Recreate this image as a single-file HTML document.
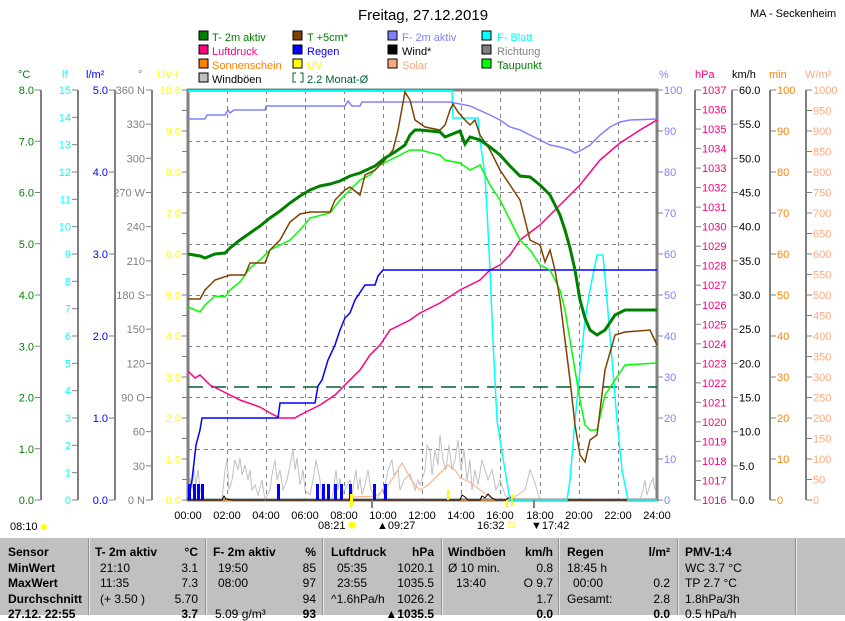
<!DOCTYPE html>
<html><head><meta charset="utf-8"><style>
body{margin:0;width:845px;height:615px;overflow:hidden;background:#fff;font-family:"Liberation Sans",sans-serif}
svg{position:absolute;left:0;top:0}
#tbl{position:absolute;left:0;top:538px;width:845px;height:77px;background:#c0c0c0;font-size:12px;color:#000}
#tbl div{position:absolute;white-space:nowrap}
.b{font-weight:bold}
.r{text-align:right}
.sep{width:1px;top:0;height:77px;background:#e8e8e8;border-left:1px solid #909090}
</style></head><body>
<svg width="845" height="538" viewBox="0 0 845 538" font-family="Liberation Sans, sans-serif" font-size="11">
<text x="423" y="20" font-size="15" text-anchor="middle">Freitag, 27.12.2019</text>
<text x="750" y="17" font-size="11">MA - Seckenheim</text>
<!-- legend -->
<g font-size="11">
<rect x="199" y="31" width="9" height="9" fill="#008000" stroke="#000"/><text x="212" y="41" fill="#008000">T- 2m aktiv</text>
<rect x="293" y="31" width="9" height="9" fill="#804000" stroke="#000"/><text x="307" y="41" fill="#008000">T +5cm*</text>
<rect x="388" y="31" width="9" height="9" fill="#8080ff" stroke="#000"/><text x="402" y="41" fill="#8080ff">F- 2m aktiv</text>
<rect x="482" y="31" width="9" height="9" fill="#00ffff" stroke="#000"/><text x="497" y="41" fill="#00ffff">F- Blatt</text>
<rect x="199" y="45" width="9" height="9" fill="#ff0080" stroke="#000"/><text x="212" y="55" fill="#ff0080">Luftdruck</text>
<rect x="293" y="45" width="9" height="9" fill="#0000ff" stroke="#000"/><text x="307" y="55" fill="#0000ff">Regen</text>
<rect x="388" y="45" width="9" height="9" fill="#000" stroke="#000"/><text x="402" y="55" fill="#000">Wind*</text>
<rect x="482" y="45" width="9" height="9" fill="#808080" stroke="#000"/><text x="497" y="55" fill="#808080">Richtung</text>
<rect x="199" y="59" width="9" height="9" fill="#ff8000" stroke="#000"/><text x="212" y="69" fill="#ff8000">Sonnenschein</text>
<rect x="293" y="59" width="9" height="9" fill="#ffff00" stroke="#000"/><text x="307" y="69" fill="#ffff00">UV</text>
<rect x="388" y="59" width="9" height="9" fill="#ffa880" stroke="#000"/><text x="402" y="69" fill="#ffa880">Solar</text>
<rect x="482" y="59" width="9" height="9" fill="#00ff00" stroke="#000"/><text x="497" y="69" fill="#008000">Taupunkt</text>
<rect x="199" y="73" width="9" height="9" fill="#c0c0c0" stroke="#000"/><text x="212" y="83" fill="#000">Windböen</text>
<path d="M296 73h-3v9h3M300 73h3v9h-3" fill="none" stroke="#006030"/><text x="307" y="83" fill="#006030">2.2 Monat-Ø</text>
</g>
<!-- unit headers -->
<g font-size="11">
<text x="18" y="78" fill="#008000">°C</text><text x="62" y="78" fill="#00ffff">lf</text>
<text x="86" y="78" fill="#0000ff">l/m²</text><text x="138" y="78" fill="#808080">°</text>
<text x="157" y="78" fill="#ffff00">UV-I</text>
<text x="659" y="78" fill="#8080ff">%</text><text x="695" y="78" fill="#ff0080">hPa</text>
<text x="732" y="78" fill="#000">km/h</text><text x="769" y="78" fill="#ff8000">min</text>
<text x="805" y="78" fill="#ffa880">W/m²</text>
</g>
<!-- grid -->
<g stroke="#808080" stroke-dasharray="4,4" stroke-width="1">
<path d="M227.5 90V500M266.5 90V500M305.5 90V500M344.5 90V500M383.5 90V500M422.5 90V500M461.5 90V500M500.5 90V500M540.5 90V500M579.5 90V500M618.5 90V500"/>
<path d="M188 141.5H657M188 192.5H657M188 244.5H657M188 295.5H657M188 346.5H657M188 397.5H657M188 449.5H657"/>
</g>
<!-- axes -->
<g stroke="#808080" stroke-width="2" fill="none">
<path d="M41 90V500M78 90V500M115 90V500M152 90V500M695 90V500M732 90V500M770 90V500M806 90V500"/>
</g>
<rect x="188" y="90" width="469" height="410" fill="none" stroke="#808080" stroke-width="3"/>
<g id="ticks" stroke="#808080" stroke-width="1"></g>
<g id="lbl" font-size="11"></g>
<!-- data -->
<line x1="188" y1="91" x2="452" y2="91" stroke="#00ffff" stroke-width="2"/>
<path d="M188 387H657" stroke="#006030" stroke-width="1.5" stroke-dasharray="15,8" fill="none"/>
<polyline fill="none" stroke="#c0c0c0" stroke-width="1" points="188,500 190,478 192,490 194,468 196,485 198,470 200,488 202,495 206,500 222,500 225,470 227,460 229,490 232,480 235,460 238,470 240,458 242,475 245,465 248,480 250,470 252,490 255,485 258,495 262,480 265,500 270,490 272,475 275,460 277,480 280,470 283,490 287,480 290,465 293,450 295,470 297,458 300,485 303,470 305,490 310,495 313,480 316,460 318,470 320,480 322,500 332,500 334,485 336,470 338,490 340,478 342,495 350,480 352,495 356,470 358,490 360,478 362,495 365,485 368,470 371,490 376,500 385,485 388,470 392,460 394,475 398,470 400,490 404,480 410,474 415,490 418,480 420,485 425,470 427,445 430,450 432,475 435,450 438,465 440,435 443,460 446,470 449,445 452,470 455,460 458,440 461,470 464,450 467,480 470,460 472,490 475,470 478,485 482,460 485,470 488,480 492,470 496,490 500,480 505,495 510,500 525,490 530,470 534,480 537,490 540,500 640,500 643,490 645,480 647,495 650,485 653,478 655,490"/>
<polyline fill="none" stroke="#ffa880" stroke-width="1" points="188,500 340,500 355,497 375,496 380,493 388,485 395,475 400,466 402,463 406,470 410,478 415,485 420,490 428,485 435,478 440,473 448,465 455,470 460,478 470,482 480,490 490,497 495,500 657,500"/>
<path d="M188 500H657" stroke="#ff8000" stroke-width="1.5" stroke-dasharray="2,1"/>
<polyline fill="none" stroke="#000" stroke-width="1" points="188,500 222,500 224,496 226,499 232,500 460,500 462,495 465,497 468,500 480,500 482,496 485,498 488,494 492,498 496,500 505,500 510,497 514,500 657,500"/>
<g fill="#0000ff"><rect x="188" y="484" width="3" height="16"/><rect x="193" y="484" width="3" height="16"/><rect x="197" y="484" width="3" height="16"/><rect x="201" y="484" width="3" height="16"/><rect x="277" y="484" width="3" height="16"/><rect x="316" y="484" width="3" height="16"/><rect x="322" y="484" width="3" height="16"/><rect x="327" y="484" width="3" height="16"/><rect x="334" y="484" width="3" height="16"/><rect x="340" y="484" width="3" height="16"/><rect x="349" y="484" width="3" height="16"/><rect x="373" y="484" width="3" height="16"/><rect x="384" y="484" width="3" height="16"/></g>
<g fill="#ffff00"><rect x="350" y="494" width="3" height="12"/><rect x="447" y="490" width="2" height="10"/><rect x="511" y="494" width="2" height="12"/></g>
<polyline fill="none" stroke="#00ffff" stroke-width="1.5" points="452,90 453,118 478,118 480,140 485,175 487,210 490,270 493,340 497,420 500,440 505,470 510,500 567,500 570,480 575,420 580,370 585,320 590,290 597,255 603,255 607,300 612,360 617,420 622,470 628,500 657,500"/>
<polyline fill="none" stroke="#8080ff" stroke-width="1.5" points="188,119 205,119 207,115 225,115 228,110 230,113 234,110 265,110 266,106 345,106 348,101 352,106 360,106 362,102 450,102 470,106 490,115 500,120 510,127 520,130 530,135 540,140 550,145 560,147 570,150 575,153 580,151 590,145 600,135 610,127 620,122 630,120 657,119"/>
<polyline fill="none" stroke="#ff0080" stroke-width="1.5" points="188,371 195,378 200,375 210,385 220,390 240,400 260,407 270,413 280,418 295,418 300,415 310,410 320,405 335,395 345,385 360,370 370,355 380,345 390,330 400,325 410,320 420,313 440,303 460,290 480,280 490,270 500,265 510,255 520,240 540,225 560,205 580,185 600,160 620,143 640,130 657,120"/>
<polyline fill="none" stroke="#0000ff" stroke-width="1.5" points="188,500 192,480 196,445 200,430 202,418 278,418 280,403 315,403 318,386 322,380 328,360 335,345 340,330 345,318 350,313 355,300 365,285 375,285 378,276 383,270 657,270"/>
<polyline fill="none" stroke="#00ff00" stroke-width="1.5" points="188,307 200,312 205,305 215,296 225,297 230,290 240,282 250,268 260,260 270,250 280,245 290,240 300,230 310,218 330,213 340,200 350,190 360,180 370,175 380,165 390,160 400,155 410,150 420,150 440,155 445,160 460,163 470,170 480,165 490,185 500,200 510,220 520,240 530,250 540,265 550,270 560,290 565,310 570,340 575,370 580,400 585,425 590,430 597,430 605,395 615,380 625,365 657,363"/>
<polyline fill="none" stroke="#804000" stroke-width="1.5" points="188,299 200,299 205,290 215,280 230,275 245,275 250,263 265,263 270,250 280,240 290,222 300,214 310,212 330,212 335,200 345,190 350,187 360,195 365,175 375,170 385,160 393,150 398,130 405,92 410,100 415,120 425,127 440,130 445,125 450,110 453,104 458,112 465,120 470,125 475,120 480,135 490,150 500,170 510,185 520,200 530,240 540,245 545,262 550,250 555,270 560,300 565,340 570,380 575,425 580,455 585,462 590,440 597,435 605,370 615,335 625,332 650,330 657,345"/>
<polyline fill="none" stroke="#008000" stroke-width="3" points="188,254 200,256 205,258 215,254 225,253 230,248 240,240 250,233 260,226 270,218 280,211 290,203 300,196 310,190 320,186 330,184 340,181 350,176 360,173 375,166 385,158 395,152 405,145 410,135 415,130 420,130 440,132 445,137 460,131 465,144 470,137 480,140 490,147 500,155 510,166 520,176 530,177 540,185 550,195 555,205 560,215 565,230 570,248 575,270 580,300 585,318 590,330 597,335 605,330 615,315 625,310 657,310"/>
<!-- x labels -->
<g font-size="11" fill="#000" text-anchor="middle">
<text x="188" y="519">00:00</text><text x="227" y="519">02:00</text><text x="266" y="519">04:00</text><text x="305" y="519">06:00</text><text x="344" y="519">08:00</text><text x="383" y="519">10:00</text><text x="422" y="519">12:00</text><text x="461" y="519">14:00</text><text x="500" y="519">16:00</text><text x="540" y="519">18:00</text><text x="579" y="519">20:00</text><text x="618" y="519">22:00</text><text x="657" y="519">24:00</text>
</g>
<path d="M351 500v8M507 500v8" stroke="#ffff00" stroke-width="2"/><path d="M372 500v8M534 500v8" stroke="#808080" stroke-width="2"/>
<g font-size="11"><text x="10" y="530">08:10</text><circle cx="44" cy="527" r="3" fill="#ffff00"/>
<text x="318" y="529">08:21</text><circle cx="352" cy="525" r="3.5" fill="#ffff00"/>
<text x="377" y="529">▲09:27</text><text x="477" y="529">16:32</text><rect x="509" y="522" width="5" height="5" fill="none" stroke="#ffff00"/>
<text x="531" y="529">▼17:42</text></g>
</svg>
<div id="tbl">
<div class="sep" style="left:88px"></div><div class="sep" style="left:205px"></div><div class="sep" style="left:322px"></div><div class="sep" style="left:441px"></div><div class="sep" style="left:558px"></div><div class="sep" style="left:677px"></div><div class="sep" style="left:795px"></div>
<div class="b" style="left:8px;top:7px">Sensor</div><div class="b" style="left:8px;top:23px">MinWert</div><div class="b" style="left:8px;top:38px">MaxWert</div><div class="b" style="left:8px;top:54px">Durchschnitt</div><div class="b" style="left:8px;top:69px">27.12. 22:55</div>
<div class="b" style="left:95px;top:7px">T- 2m aktiv</div><div class="b r" style="right:647px;top:7px">°C</div>
<div style="left:100px;top:23px">21:10</div><div class="r" style="right:647px;top:23px">3.1</div>
<div style="left:100px;top:38px">11:35</div><div class="r" style="right:647px;top:38px">7.3</div>
<div style="left:100px;top:54px">(+ 3.50 )</div><div class="r" style="right:647px;top:54px">5.70</div><div class="b r" style="right:647px;top:69px">3.7</div>
<div class="b" style="left:213px;top:7px">F- 2m aktiv</div><div class="b r" style="right:529px;top:7px">%</div>
<div style="left:218px;top:23px">19:50</div><div class="r" style="right:529px;top:23px">85</div>
<div style="left:218px;top:38px">08:00</div><div class="r" style="right:529px;top:38px">97</div>
<div class="r" style="right:529px;top:54px">94</div><div style="left:215px;top:69px">5.09 g/m³</div><div class="b r" style="right:529px;top:69px">93</div>
<div class="b" style="left:331px;top:7px">Luftdruck</div><div class="b r" style="right:411px;top:7px">hPa</div>
<div style="left:337px;top:23px">05:35</div><div class="r" style="right:411px;top:23px">1020.1</div>
<div style="left:337px;top:38px">23:55</div><div class="r" style="right:411px;top:38px">1035.5</div>
<div style="left:331px;top:54px">^1.6hPa/h</div><div class="r" style="right:411px;top:54px">1026.2</div><div class="b r" style="right:411px;top:69px">▲1035.5</div>
<div class="b" style="left:448px;top:7px">Windböen</div><div class="b r" style="right:292px;top:7px">km/h</div>
<div style="left:448px;top:23px">Ø 10 min.</div><div class="r" style="right:292px;top:23px">0.8</div>
<div style="left:456px;top:38px">13:40</div><div class="r" style="right:292px;top:38px">O 9.7</div>
<div class="r" style="right:292px;top:54px">1.7</div><div class="b r" style="right:292px;top:69px">0.0</div>
<div class="b" style="left:567px;top:7px">Regen</div><div class="b r" style="right:175px;top:7px">l/m²</div>
<div style="left:567px;top:23px">18:45 h</div>
<div style="left:573px;top:38px">00:00</div><div class="r" style="right:175px;top:38px">0.2</div>
<div style="left:567px;top:54px">Gesamt:</div><div class="r" style="right:175px;top:54px">2.8</div><div class="b r" style="right:175px;top:69px">0.0</div>
<div class="b" style="left:685px;top:7px">PMV-1:4</div>
<div style="left:685px;top:23px">WC 3.7 °C</div><div style="left:685px;top:38px">TP 2.7 °C</div><div style="left:685px;top:54px">1.8hPa/3h</div><div style="left:685px;top:69px">0.5 hPa/h</div>
</div>
<script>
(function(){
var ns="http://www.w3.org/2000/svg",T=document.getElementById("ticks"),L=document.getElementById("lbl");
function tick(x1,x2,y){var l=document.createElementNS(ns,"line");l.setAttribute("x1",x1);l.setAttribute("x2",x2);l.setAttribute("y1",y);l.setAttribute("y2",y);T.appendChild(l);}
function txt(x,y,s,c,a){var t=document.createElementNS(ns,"text");t.setAttribute("x",x);t.setAttribute("y",y+4);t.setAttribute("fill",c);t.setAttribute("text-anchor",a);t.textContent=s;L.appendChild(t);}
function axL(xl,n,f,c,sub){for(var i=0;i<=n;i++){var y=500-410*i/n;tick(xl-6,xl,y);txt(xl-7,y,f(i),c,"end");}}
function axR(xl,n,f,c,step){for(var i=0;i<=n;i++){var y=500-410*i/n;tick(xl,xl+6,y);var s=f(i);if(s!==null)txt(xl+7,y,s,c,"start");}}
axL(41,8,function(i){return i.toFixed(1)},"#008000");
axL(78,15,function(i){return ""+i},"#00ffff");
axL(115,5,function(i){return i.toFixed(1)},"#0000ff");
var d=["0  N","30","60","90  O","120","150","180 S","210","240","270 W","300","330","360 N"];
axL(152,12,function(i){return d[i]},"#808080");
for(var i=0;i<=20;i++){tick(182,188,500-20.5*i);}
for(var i=0;i<=10;i++)txt(181,500-41*i,i.toFixed(1),"#ffff00","end");
axR(657,10,function(i){return ""+i*10},"#8080ff");
axR(695,21,function(i){return ""+(1016+i)},"#ff0080");
axR(732,12,function(i){return (i*5).toFixed(1)},"#000");
axR(770,10,function(i){return ""+i*10},"#ff8000");
axR(806,20,function(i){return ""+i*50},"#ffa880");
})();
</script>
</body></html>
